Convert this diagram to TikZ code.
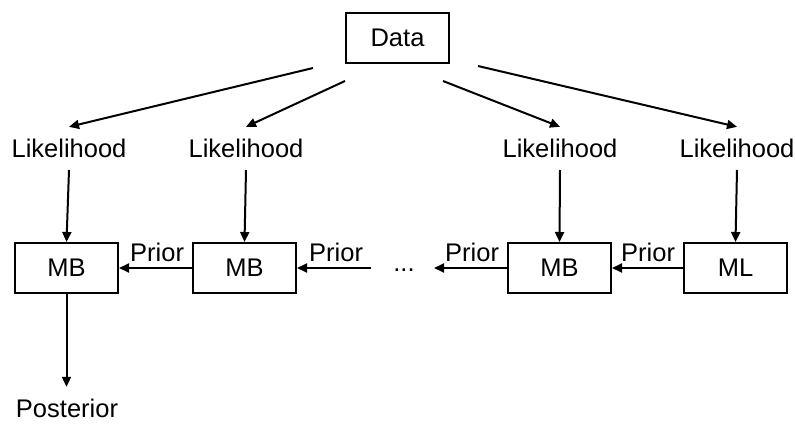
\documentclass[tikz,border=0pt]{standalone}
\usepackage{fontspec}
\setmainfont{Liberation Sans}
\usetikzlibrary{arrows.meta}
\begin{document}
\begin{tikzpicture}[x=1pt,y=-1pt,
  font=\fontsize{25.5}{30}\selectfont,
  boxnode/.style={draw, line width=2pt, minimum width=103pt, minimum height=50pt, inner sep=0pt},
  txt/.style={inner sep=0pt, anchor=base},
  arr/.style={line width=2pt, -{Triangle[length=10pt,width=9pt]}},
  plabel/.style={inner sep=0pt, anchor=south east, xshift=-7pt, yshift=5pt}
]
\useasboundingbox (0,0) rectangle (795,423);
% nodes
\node[boxnode] (data) at (397.5,38) {Data};
\node[txt] (L1) at (69,157) {Likelihood};
\node[txt] (L2) at (246,157) {Likelihood};
\node[txt] (L3) at (560,157) {Likelihood};
\node[txt] (L4) at (737,157) {Likelihood};
\node[boxnode] (mb1) at (66.5,268) {MB};
\node[boxnode] (mb2) at (244.5,268) {MB};
\node[boxnode] (mb3) at (559.5,268) {MB};
\node[boxnode] (ml) at (735.5,268) {ML};
\node[txt] (dots) at (404,271) {...};
\node[txt] (post) at (67,417.5) {Posterior};
% free ends
\coordinate (s1) at (313,68);
\coordinate (s2) at (345,81);
\coordinate (s3) at (443,81);
\coordinate (s4) at (478,66);
\coordinate (c2) at (371,268);
\coordinate (c3) at (434,268);
% data arrows
\draw[arr] (s1) -- ([yshift=11.5pt]L1.north);
\draw[arr] (s2) -- ([yshift=11.5pt]L2.north);
\draw[arr] (s3) -- ([yshift=11.5pt]L3.north);
\draw[arr] (s4) -- ([yshift=11.5pt]L4.north);
% likelihood arrows
\draw[arr] ([yshift=-13pt]L1.base) -- (mb1.north);
\draw[arr] ([yshift=-13pt]L2.base) -- (mb2.north);
\draw[arr] ([yshift=-13pt]L3.base) -- (mb3.north);
\draw[arr] ([yshift=-13pt]L4.base) -- (ml.north);
% prior arrows
\draw[arr] (mb2.west) -- (mb1.east) node[plabel, pos=0] {Prior};
\draw[arr] (c2) -- (mb2.east) node[plabel, pos=0] {Prior};
\draw[arr] (mb3.west) -- (c3) node[plabel, pos=0] {Prior};
\draw[arr] (ml.west) -- (mb3.east) node[plabel, pos=0] {Prior};
% posterior
\draw[arr] (mb1.south) -- ([yshift=12pt]mb1.south |- post.north);
\end{tikzpicture}
\end{document}
